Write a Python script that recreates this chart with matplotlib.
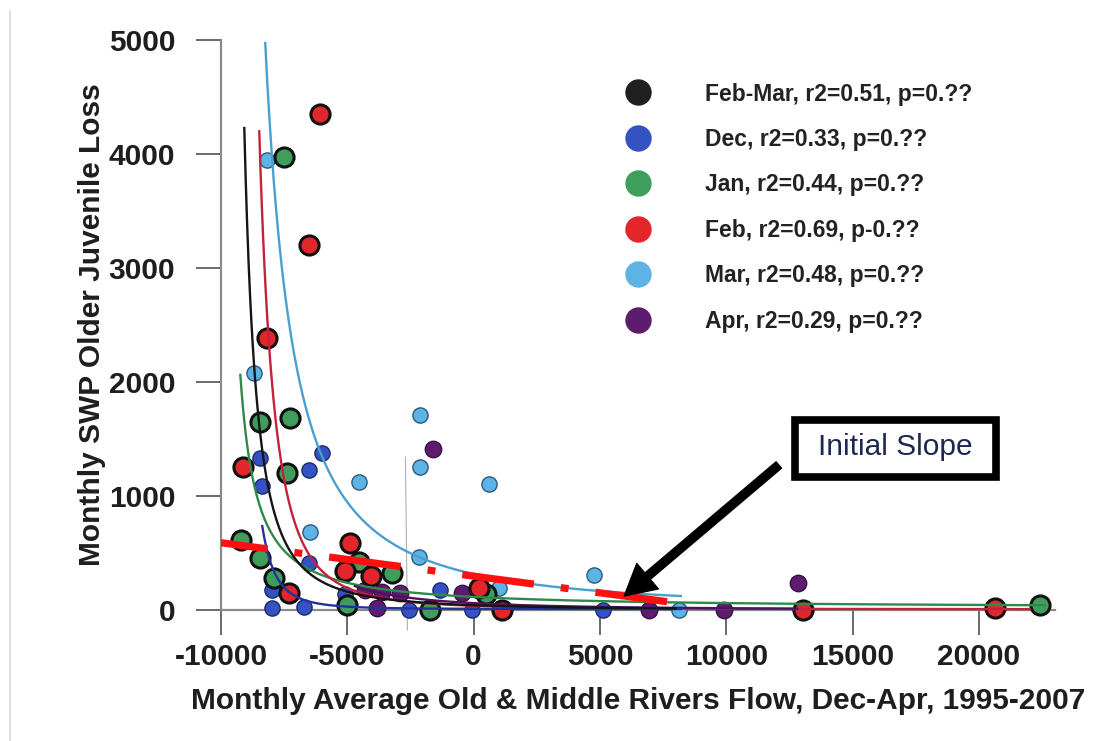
import numpy as np
import matplotlib
matplotlib.use("Agg")
import matplotlib.pyplot as plt
from matplotlib.lines import Line2D
from matplotlib.patches import Rectangle

plt.rcParams['font.family'] = ['Liberation Sans', 'DejaVu Sans']
plt.rcParams['axes.unicode_minus'] = False

# ---------------- data ----------------
series_names = ["Feb-Mar", "Dec", "Jan", "Feb", "Mar", "Apr"]
legend_labels = ["Feb-Mar, r2=0.51, p=0.??",
                 "Dec, r2=0.33, p=0.??",
                 "Jan, r2=0.44, p=0.??",
                 "Feb, r2=0.69, p-0.??",
                 "Mar, r2=0.48, p=0.??",
                 "Apr, r2=0.29, p=0.??"]

dec_x = [-8445, -8366, -6511, -5998, -7970, -7970, -6709, -5090, -6511, -1342, -2565, -79, 5130]
dec_y = [1333, 1088, 1228, 1377, 175, 18, 26, 140, 412, 175, 0, 0, 0]

jan_x = [-7500, -8445, -7260, -7380, -9195, -8445, -7890, -5010, -4538, -3236, -1736, 480, 22400]
jan_y = [3970, 1650, 1684, 1200, 614, 456, 280, 44, 421, 325, 0, 140, 44]

feb_x = [-6077, -6511, -8169, -9116, -4893, -7300, -5100, -4050, 197, 1105, 13020, 20640]
feb_y = [4351, 3202, 2386, 1254, 588, 149, 340, 300, 193, 0, 0, 15]

mar_x = [-8170, -8680, -4538, -6472, -2131, -2131, 592, -2170, 987, 4775, 8130]
mar_y = [3950, 2076, 1123, 684, 1711, 1254, 1105, 465, 193, 307, 0]

apr_x = [-1618, 12826, -4300, -3630, -2920, -3830, -474, 6950, 9900]
apr_y = [1412, 240, 175, 158, 149, 18, 149, 0, 0]

# fitted trend curves: anchor points -> power law in (x + 10000)
# (x_top, y_top, x_mid, y_mid, x_end, offset)
fit_anchor_black = (-9077, 4228, -7498, 614, 8000, 0)
fit_anchor_dec = (-8366, 728, -7300, 149, 8200, 8)
fit_anchor_jan = (-9234, 2044, -6393, 325, 22600, 18)
fit_anchor_feb = (-8485, 4193, -6393, 439, 22000, 6)
fit_anchor_mar = (-8248, 4974, -2170, 465, 8200, 0)
fit_anchor_apr = (-4700, 210, 0, 60, 12800, 0)

# "initial slope" line end points
slope_x = [-10000, 7750]
slope_y = [590, 70]

# ---------------- styling ----------------
col_black = "#202020"
col_dec = "#3552c4"
col_jan = "#3f9e5c"
col_feb = "#e3262b"
col_mar = "#5db3e4"
col_apr = "#5e1c6e"
curve_cols = {"black": "#151515", "dec": "#22339e", "jan": "#2f8a4a",
              "feb": "#c4213a", "mar": "#4a9fd0", "apr": "#4e1260"}

fig = plt.figure(figsize=(10.95, 7.41), dpi=100)
ax = fig.add_axes([0.2018, 0.1768, 0.7615, 0.7692])
ax.set_xlim(-10000, 23000)
ax.set_ylim(0, 5000)


def power_curve(anchor):
    x1, y1, x2, y2, xend, c = anchor
    d1, d2 = x1 + 10000.0, x2 + 10000.0
    p = np.log(y1 / y2) / np.log(d2 / d1)
    A = y1 * d1 ** p
    xs = np.linspace(x1, xend, 600)
    return xs, A * (xs + 10000.0) ** (-p) + c


# scatter points
big = 190
small = 120
ax.scatter(dec_x, dec_y, s=small, c=col_dec, edgecolors="#1b2a6a", linewidths=1.0, zorder=3, clip_on=False)
ax.scatter(mar_x, mar_y, s=small, c=col_mar, edgecolors="#2a5a80", linewidths=1.0, zorder=3, clip_on=False)
ax.scatter(apr_x, apr_y, s=small + 20, c=col_apr, edgecolors="#3a0f45", linewidths=1.0, zorder=3, clip_on=False)
ax.scatter(jan_x, jan_y, s=big, c=col_jan, edgecolors="#111111", linewidths=2.2, zorder=3, clip_on=False)
ax.scatter(feb_x, feb_y, s=big, c=col_feb, edgecolors="#111111", linewidths=2.2, zorder=3, clip_on=False)

# fitted curves
for key, anc in [("jan", fit_anchor_jan), ("feb", fit_anchor_feb), ("apr", fit_anchor_apr),
                 ("dec", fit_anchor_dec), ("mar", fit_anchor_mar), ("black", fit_anchor_black)]:
    xs, ys = power_curve(anc)
    ax.plot(xs, ys, color=curve_cols[key], lw=1.7, zorder=4, clip_on=False)

# red dashed initial slope line
ax.plot(slope_x, slope_y, color="#ff1010", lw=5.2, zorder=5, solid_capstyle="butt",
        dash_capstyle="butt", linestyle=(3.5, (10.0, 3.75, 1.1, 3.75)))

# scan artefact line
ax.plot([-2700, -2620], [1340, -175], color="#b0b0b0", lw=0.8, zorder=2, clip_on=False)

# axes styling
for s in ["top", "right"]:
    ax.spines[s].set_visible(False)
ax.spines["left"].set_color("#8a8a8a")
ax.spines["bottom"].set_color("#8a8a8a")
ax.spines["left"].set_linewidth(1.6)
ax.spines["bottom"].set_linewidth(1.6)
ax.set_xticks([-10000, -5000, 0, 5000, 10000, 15000, 20000])
ax.set_yticks([0, 1000, 2000, 3000, 4000, 5000])
ax.tick_params(axis="both", direction="out", length=18, width=1.4, color="#6a6a6a",
               labelsize=21.5, labelcolor="#1e1e1e")
ax.tick_params(axis="x", pad=6)
ax.tick_params(axis="y", pad=15)
for lab in ax.get_xticklabels() + ax.get_yticklabels():
    lab.set_fontweight("bold")

ax.set_xlabel("Monthly Average Old & Middle Rivers Flow, Dec-Apr, 1995-2007",
              fontsize=21.5, fontweight="bold", color="#1e1e1e", labelpad=11)
ax.set_ylabel("Monthly SWP Older Juvenile Loss", fontsize=21.5, fontweight="bold",
              color="#1e1e1e", labelpad=2)

# legend
handles = [Line2D([], [], marker="o", linestyle="", markersize=18, markerfacecolor=c,
                  markeredgecolor=c)
           for c in [col_black, col_dec, col_jan, col_feb, col_mar, col_apr]]
leg = ax.legend(handles, legend_labels, loc="upper left",
                bbox_to_anchor=(626.5 / 1095, 1 - 82.5 / 741), bbox_transform=fig.transFigure,
                frameon=False, prop={"weight": "bold", "size": 16.5}, labelcolor="#222222",
                handlelength=1.0, handletextpad=2.42, labelspacing=0.98, borderpad=0,
                borderaxespad=0)

# annotation box and arrow
ax.add_patch(Rectangle((12707, 1167), 20680 - 12707, 1667 - 1167, fill=False,
                       edgecolor="black", lw=5.5, zorder=6))
ax.text((12707 + 20680) / 2, 1430, "Initial Slope", fontsize=21.5, color="#1c2850",
        ha="center", va="center", zorder=7)
ax.annotate("", xy=(5960, 123), xytext=(12076, 1272),
            arrowprops=dict(facecolor="black", edgecolor="black", width=6, headwidth=24,
                            headlength=22, shrink=0), zorder=7)

# scan frame line at the left edge
fig.add_artist(Line2D([0.009, 0.009], [0.0, 0.985], color="#d8d8d8", lw=1.2,
                      transform=fig.transFigure))

fig.savefig("out.png", dpi=100)
